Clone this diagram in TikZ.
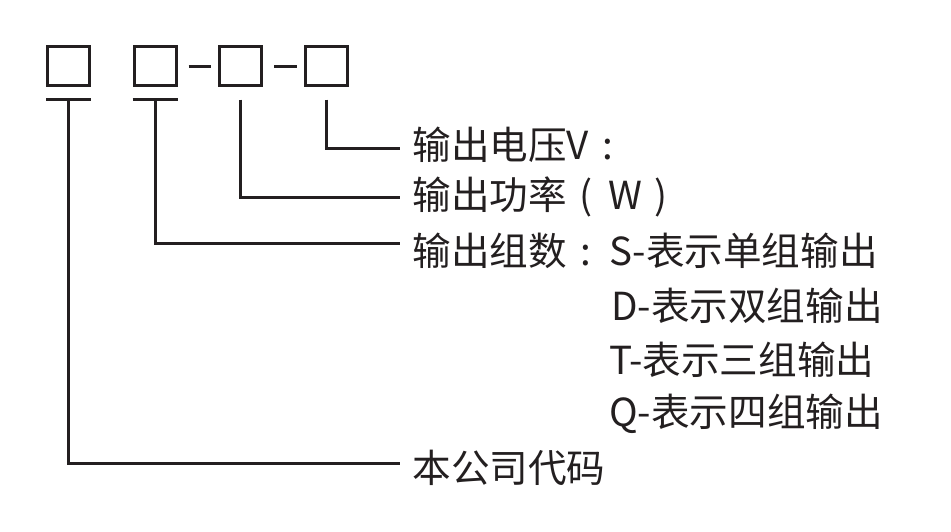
\documentclass[tikz,border=0pt]{standalone}
\usepackage{fontspec}
\newfontfamily\cjkfont{Noto Sans CJK SC}
\usepackage{tikz}
\usetikzlibrary{positioning}
\definecolor{inkCol}{HTML}{231F20}
\newcommand{\wide}[1]{\makebox[1em]{#1}}

\begin{document}
\begin{tikzpicture}[
  x=0.5pt, y=-0.5pt,
  font=\cjkfont\fontsize{19.3}{23}\selectfont,
  codebox/.style={draw=inkCol, line width=1.5pt, minimum width=21pt,
                  minimum height=19.5pt, inner sep=0pt},
  wire/.style={draw=inkCol, line width=1.5pt},
  txt/.style={text=inkCol, anchor=west, inner xsep=6pt, inner ysep=0pt},
]
\useasboundingbox (0,0) rectangle (951,531);

% ---- code boxes ----
\node[codebox] (b1) at (68.5,66) {};
\node[codebox] (b2) at (155,66) {};
\node[codebox] (b3) at (240.5,66) {};
\node[codebox] (b4) at (326.5,66) {};

% ---- dashes between boxes ----
\draw[wire] ([xshift=5.5pt]b2.east) -- ([xshift=-3.75pt]b3.west);
\draw[wire] ([xshift=5.5pt]b3.east) -- ([xshift=-3.75pt]b4.west);

% ---- bars under the first two boxes ----
\draw[wire] ([yshift=-6.25pt]b1.south west) -- ([yshift=-6.25pt]b1.south east);
\draw[wire] ([yshift=-6.25pt]b2.south west) -- ([yshift=-6.25pt]b2.south east);

% ---- labels ----
\node[txt] (tvolt) at (400,145) {输出电压V\wide{:}};
\node[txt] (tpow)  at (400,197) {输出功率\wide{(}\hspace{1.5pt}W\hspace{6pt})};
\node[txt] (tgrp)  at (400,251) {输出组数\wide{:}};
\node[txt, right=-4.5pt of tgrp, inner xsep=0pt] (ts) {S-表示单组输出};
\node[txt, inner xsep=0pt] (td) at ([xshift=1pt,yshift=-27.2pt]ts.west) {D-表示双组输出};
\node[txt, inner xsep=0pt] (tt) at ([xshift=-1pt,yshift=-27.2pt]td.west) {T-表示三组输出};
\node[txt, inner xsep=0pt] (tq) at ([yshift=-27.2pt]tt.west) {Q-表示四组输出};
\node[txt] (tcode) at (400,468) {本公司代码};

% ---- leaders ----
\draw[wire] ([yshift=-6.25pt]b4.south) |- ([yshift=-1.5pt]tvolt.west);
\draw[wire] ([yshift=-6.25pt]b3.south) |- (tpow.west);
\draw[wire] ([yshift=-6.25pt]b2.south) |- ([yshift=4pt]tgrp.west);
\draw[wire] ([yshift=-6.25pt]b1.south) |- ([yshift=2.5pt]tcode.west);

\end{tikzpicture}
\end{document}
